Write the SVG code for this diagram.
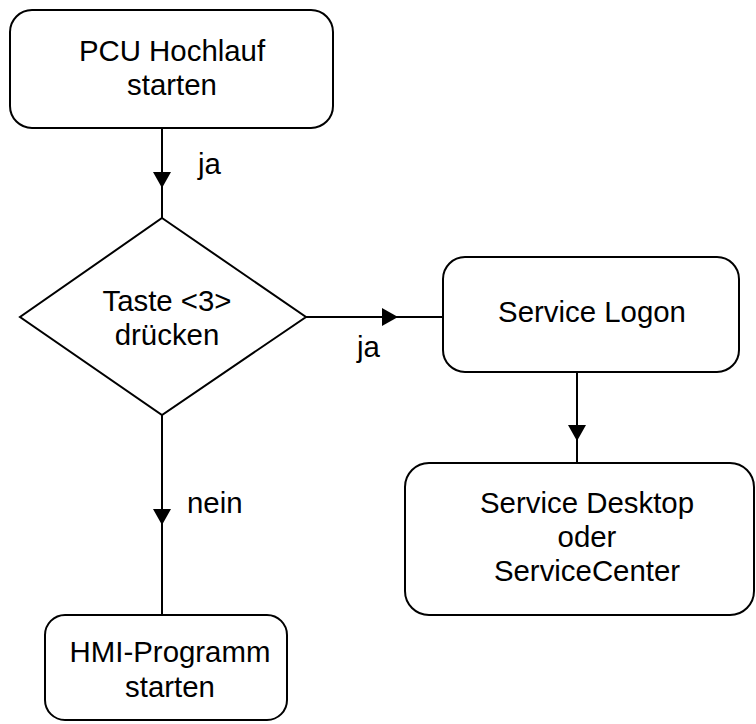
<svg xmlns="http://www.w3.org/2000/svg" width="756" height="724" viewBox="0 0 756 724">
  <style>
    .node { fill: #ffffff; stroke: #000000; stroke-width: 2; }
    .edge { fill: none; stroke: #000000; stroke-width: 2; marker-mid: url(#arrow); }
    text { font-family: "Liberation Sans", Arial, sans-serif; font-size: 29.4px; fill: #000000; }
    .c { text-anchor: middle; }
  </style>
  <defs>
    <!-- filled triangle placed at the middle vertex of each connector -->
    <marker id="arrow" viewBox="0 0 16 18" refX="16" refY="9" markerWidth="16" markerHeight="18" markerUnits="userSpaceOnUse" orient="auto">
      <path d="M0,0 L16,9 L0,18 Z" fill="#000000"/>
    </marker>
  </defs>
  <rect width="756" height="724" fill="#ffffff"/>

  <g id="connectors">
    <path class="edge" d="M162,128 L162,188 L162,218"/>
    <path class="edge" d="M306,317 L398,317 L443,317"/>
    <path class="edge" d="M577,372 L577,441 L577,463"/>
    <path class="edge" d="M162,415 L162,525 L162,615"/>
    <text x="198" y="174">ja</text>
    <text x="357" y="357">ja</text>
    <text x="187" y="513">nein</text>
  </g>

  <g id="pcu-start">
    <rect class="node" x="10" y="10" width="323" height="118" rx="22" ry="22"/>
    <text class="c" x="172" y="61">PCU Hochlauf</text>
    <text class="c" x="172" y="95">starten</text>
  </g>

  <g id="key-decision">
    <polygon class="node" points="162,218 306,317 162,415 20,317"/>
    <text class="c" x="167" y="311">Taste &lt;3&gt;</text>
    <text class="c" x="167" y="345">drücken</text>
  </g>

  <g id="service-logon">
    <rect class="node" x="443" y="257" width="296" height="115" rx="22" ry="22"/>
    <text class="c" x="592" y="322">Service Logon</text>
  </g>

  <g id="service-desktop">
    <rect class="node" x="405" y="463" width="349" height="152" rx="24" ry="24"/>
    <text class="c" x="587" y="513">Service Desktop</text>
    <text class="c" x="587" y="547">oder</text>
    <text class="c" x="587" y="581">ServiceCenter</text>
  </g>

  <g id="hmi-start">
    <rect class="node" x="45" y="615" width="242" height="105" rx="20" ry="20"/>
    <text class="c" x="170" y="662">HMI-Programm</text>
    <text class="c" x="170" y="697">starten</text>
  </g>
</svg>
